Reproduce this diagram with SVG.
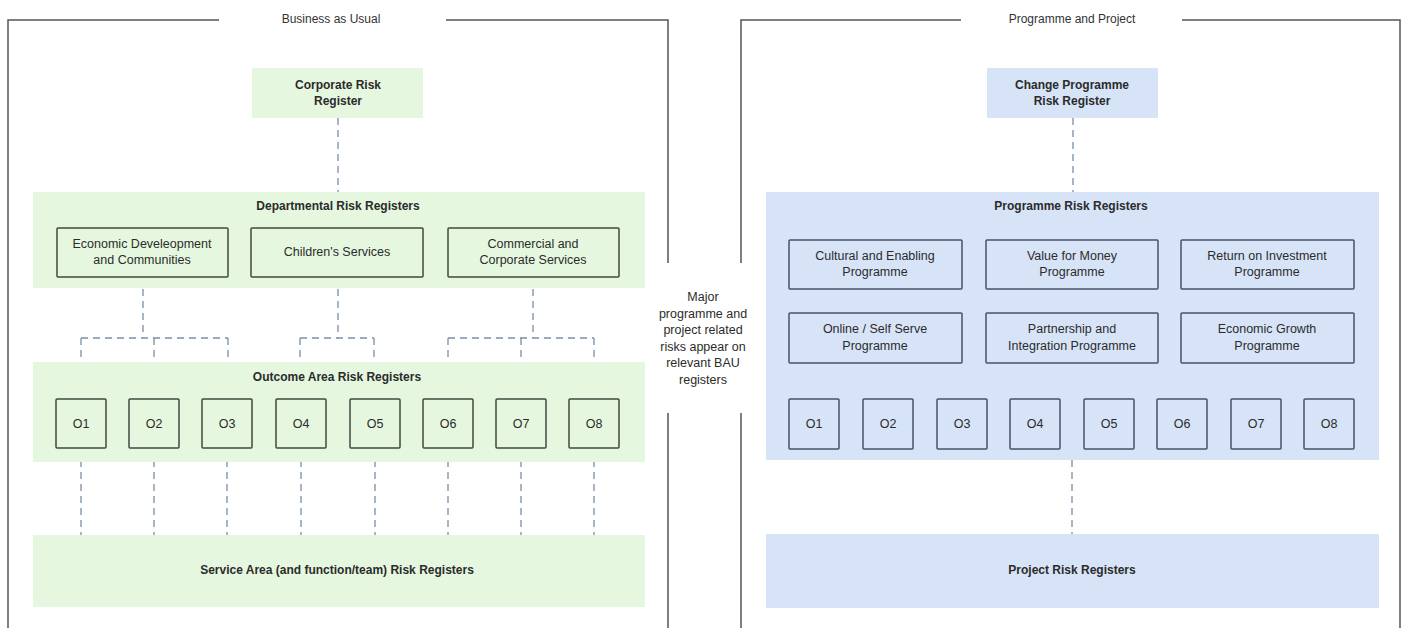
<svg xmlns="http://www.w3.org/2000/svg" width="1404" height="628" viewBox="0 0 1404 628">
<style>
.frame{fill:none;stroke:#555;stroke-width:1.5}
.g{fill:#e5f7df}
.b{fill:#d7e4f8}
.gb{fill:none;stroke:#3e4a40;stroke-width:1.5}
.bb{fill:none;stroke:#4a5068;stroke-width:1.5}
.dash{fill:none;stroke:#7a8eaa;stroke-width:1.3;stroke-dasharray:7 5}
text{font-family:"Liberation Sans",Arial,sans-serif;fill:#2b2b2b;text-anchor:middle}
.t{font-size:12.5px}
.h{font-size:12px;font-weight:bold}
.lbl{font-size:12px;fill:#333}
</style>
<rect width="1404" height="628" fill="#fff"/>
<g id="frame-bau">
<path class="frame" d="M8 628V20H219M446 20H668V263M668 413V628"/>
<text class="lbl" x="331" y="23">Business as Usual</text>
</g>
<g id="frame-pp">
<path class="frame" d="M741 263V20H961M1182 20H1400V628M741 413V628"/>
<text class="lbl" x="1072" y="23">Programme and Project</text>
</g>
<g id="note">
<text class="t" x="703" y="301">Major</text>
<text class="t" x="703" y="318">programme and</text>
<text class="t" x="703" y="334">project related</text>
<text class="t" x="703" y="351">risks appear on</text>
<text class="t" x="703" y="367">relevant BAU</text>
<text class="t" x="703" y="384">registers</text>
</g>
<g id="connectors">
<path class="dash" d="M338 118V192"/>
<path class="dash" d="M143 277V338M81 338H228M81 338V399M154 338V399M228 338V399"/>
<path class="dash" d="M338 277V338M300 338H374M300 338V399M374 338V399"/>
<path class="dash" d="M533 277V338M448 338H594M448 338V399M521 338V399M594 338V399"/>
<path class="dash" d="M81 448V535M154 448V535M227 448V535M301 448V535M375 448V535M448 448V535M521 448V535M594 448V535"/>
<path class="dash" d="M1073 118V192"/>
<path class="dash" d="M1072 460V534"/>
</g>
<g id="corporate">
<rect class="g" x="252" y="68" width="171" height="50"/>
<text class="h" x="338" y="89">Corporate Risk</text>
<text class="h" x="338" y="105">Register</text>
</g>
<g id="departmental">
<rect class="g" x="33" y="192" width="612" height="96"/>
<text class="h" x="338" y="210">Departmental Risk Registers</text>
</g>
<g id="dept-econ">
<rect class="gb" x="57" y="228" width="171" height="49" rx="1"/>
<text class="t" x="142" y="248">Economic Develeopment</text>
<text class="t" x="142" y="264">and Communities</text>
</g>
<g id="dept-children">
<rect class="gb" x="251" y="228" width="172" height="49" rx="1"/>
<text class="t" x="337" y="256">Children's Services</text>
</g>
<g id="dept-commercial">
<rect class="gb" x="448" y="228" width="171" height="49" rx="1"/>
<text class="t" x="533" y="248">Commercial and</text>
<text class="t" x="533" y="264">Corporate Services</text>
</g>
<g id="outcome">
<rect class="g" x="33" y="362" width="612" height="100"/>
<text class="h" x="337" y="381">Outcome Area Risk Registers</text>
</g>
<g id="bau-o1"><rect class="gb" x="56" y="399" width="50" height="49" rx="1"/><text class="t" x="81" y="428">O1</text></g>
<g id="bau-o2"><rect class="gb" x="129" y="399" width="50" height="49" rx="1"/><text class="t" x="154" y="428">O2</text></g>
<g id="bau-o3"><rect class="gb" x="202" y="399" width="50" height="49" rx="1"/><text class="t" x="227" y="428">O3</text></g>
<g id="bau-o4"><rect class="gb" x="276" y="399" width="50" height="49" rx="1"/><text class="t" x="301" y="428">O4</text></g>
<g id="bau-o5"><rect class="gb" x="350" y="399" width="50" height="49" rx="1"/><text class="t" x="375" y="428">O5</text></g>
<g id="bau-o6"><rect class="gb" x="423" y="399" width="50" height="49" rx="1"/><text class="t" x="448" y="428">O6</text></g>
<g id="bau-o7"><rect class="gb" x="496" y="399" width="50" height="49" rx="1"/><text class="t" x="521" y="428">O7</text></g>
<g id="bau-o8"><rect class="gb" x="569" y="399" width="50" height="49" rx="1"/><text class="t" x="594" y="428">O8</text></g>
<g id="service">
<rect class="g" x="33" y="535" width="612" height="72"/>
<text class="h" x="337" y="574">Service Area (and function/team) Risk Registers</text>
</g>
<g id="change-programme">
<rect class="b" x="987" y="68" width="171" height="50"/>
<text class="h" x="1072" y="89">Change Programme</text>
<text class="h" x="1072" y="105">Risk Register</text>
</g>
<g id="programme">
<rect class="b" x="766" y="192" width="613" height="268"/>
<text class="h" x="1071" y="210">Programme Risk Registers</text>
</g>
<g id="prog-cultural"><rect class="bb" x="789" y="240" width="173" height="49" rx="1"/><text class="t" x="875" y="260">Cultural and Enabling</text><text class="t" x="875" y="276">Programme</text></g>
<g id="prog-vfm"><rect class="bb" x="986" y="240" width="172" height="49" rx="1"/><text class="t" x="1072" y="260">Value for Money</text><text class="t" x="1072" y="276">Programme</text></g>
<g id="prog-roi"><rect class="bb" x="1181" y="240" width="173" height="49" rx="1"/><text class="t" x="1267" y="260">Return on Investment</text><text class="t" x="1267" y="276">Programme</text></g>
<g id="prog-online"><rect class="bb" x="789" y="313" width="173" height="50" rx="1"/><text class="t" x="875" y="333">Online / Self Serve</text><text class="t" x="875" y="350">Programme</text></g>
<g id="prog-partnership"><rect class="bb" x="986" y="313" width="172" height="50" rx="1"/><text class="t" x="1072" y="333">Partnership and</text><text class="t" x="1072" y="350">Integration Programme</text></g>
<g id="prog-growth"><rect class="bb" x="1181" y="313" width="173" height="50" rx="1"/><text class="t" x="1267" y="333">Economic Growth</text><text class="t" x="1267" y="350">Programme</text></g>
<g id="pp-o1"><rect class="bb" x="789" y="399" width="50" height="50" rx="1"/><text class="t" x="814" y="428">O1</text></g>
<g id="pp-o2"><rect class="bb" x="863" y="399" width="50" height="50" rx="1"/><text class="t" x="888" y="428">O2</text></g>
<g id="pp-o3"><rect class="bb" x="937" y="399" width="50" height="50" rx="1"/><text class="t" x="962" y="428">O3</text></g>
<g id="pp-o4"><rect class="bb" x="1010" y="399" width="50" height="50" rx="1"/><text class="t" x="1035" y="428">O4</text></g>
<g id="pp-o5"><rect class="bb" x="1084" y="399" width="50" height="50" rx="1"/><text class="t" x="1109" y="428">O5</text></g>
<g id="pp-o6"><rect class="bb" x="1157" y="399" width="50" height="50" rx="1"/><text class="t" x="1182" y="428">O6</text></g>
<g id="pp-o7"><rect class="bb" x="1231" y="399" width="50" height="50" rx="1"/><text class="t" x="1256" y="428">O7</text></g>
<g id="pp-o8"><rect class="bb" x="1304" y="399" width="50" height="50" rx="1"/><text class="t" x="1329" y="428">O8</text></g>
<g id="project">
<rect class="b" x="766" y="534" width="613" height="74"/>
<text class="h" x="1072" y="574">Project Risk Registers</text>
</g>
</svg>
